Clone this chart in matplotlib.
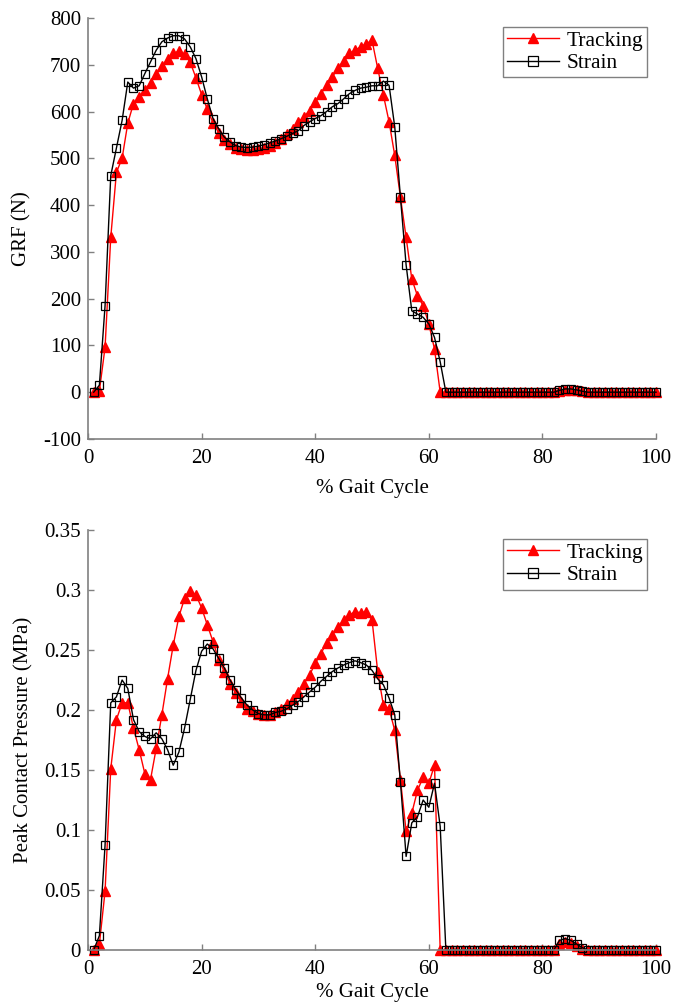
# GRF and peak contact pressure over the gait cycle

import numpy as np
import matplotlib
matplotlib.use('Agg')
import matplotlib.pyplot as plt
from matplotlib.ticker import FuncFormatter

plt.rcParams['font.family'] = ['Liberation Serif', 'DejaVu Serif']
plt.rcParams['font.size'] = 15

# Data
gait = np.arange(1, 101)

grf_tracking = [0, 3, 96, 331, 470, 500, 575, 617, 630, 645,
                662, 680, 697, 712, 724, 729, 722, 705, 672, 636,
                605, 576, 555, 540, 530, 523, 519, 517, 518, 520,
                523, 527, 533, 541, 551, 563, 577, 589, 602, 620,
                638, 656, 674, 692, 709, 724, 731, 738, 745, 752,
                692, 635, 578, 506, 417, 331, 242, 206, 185, 146,
                92, 0, 0, 0, 0, 0, 0, 0, 0, 0,
                0, 0, 0, 0, 0, 0, 0, 0, 0, 0,
                0, 0, 3, 5, 5, 4, 2, 0, 0, 0,
                0, 0, 0, 0, 0, 0, 0, 0, 0, 0]

grf_strain = [0, 15, 185, 463, 522, 581, 663, 650, 655, 681,
              706, 731, 749, 757, 762, 762, 755, 738, 713, 674,
              627, 585, 563, 545, 535, 527, 524, 523, 524, 526,
              529, 533, 537, 542, 547, 553, 559, 570, 578, 585,
              591, 600, 610, 617, 627, 638, 645, 650, 652, 655,
              655, 665, 656, 567, 417, 272, 174, 167, 160, 146,
              117, 65, 0, 0, 0, 0, 0, 0, 0, 0,
              0, 0, 0, 0, 0, 0, 0, 0, 0, 0,
              0, 0, 4, 7, 7, 5, 2, 0, 0, 0,
              0, 0, 0, 0, 0, 0, 0, 0, 0, 0]

pcp_tracking = [0, 0.005, 0.049, 0.151, 0.192, 0.206, 0.206, 0.185, 0.167, 0.147,
                0.142, 0.168, 0.196, 0.226, 0.254, 0.278, 0.293, 0.299, 0.296, 0.285,
                0.271, 0.257, 0.242, 0.232, 0.222, 0.214, 0.207, 0.201, 0.199, 0.197,
                0.196, 0.196, 0.198, 0.201, 0.205, 0.209, 0.215, 0.222, 0.229, 0.239,
                0.247, 0.256, 0.2625, 0.269, 0.275, 0.279, 0.282, 0.281, 0.282, 0.275,
                0.232, 0.204, 0.201, 0.183, 0.142, 0.099, 0.114, 0.133, 0.144, 0.139,
                0.154, 0, 0, 0, 0, 0, 0, 0, 0, 0,
                0, 0, 0, 0, 0, 0, 0, 0, 0, 0,
                0, 0, 0.005, 0.007, 0.006, 0.003, 0.001, 0, 0, 0,
                0, 0, 0, 0, 0, 0, 0, 0, 0, 0]

pcp_strain = [0, 0.012, 0.0875, 0.206, 0.211, 0.225, 0.218, 0.192, 0.182, 0.178,
              0.176, 0.181, 0.176, 0.167, 0.154, 0.165, 0.185, 0.209, 0.233, 0.249,
              0.255, 0.251, 0.243, 0.235, 0.225, 0.217, 0.21, 0.204, 0.2, 0.197,
              0.196, 0.196, 0.198, 0.199, 0.201, 0.204, 0.207, 0.211, 0.215, 0.219,
              0.224, 0.228, 0.232, 0.235, 0.2375, 0.2395, 0.241, 0.2395, 0.2375, 0.233,
              0.226, 0.221, 0.21, 0.196, 0.14, 0.078, 0.106, 0.111, 0.125, 0.119,
              0.139, 0.103, 0, 0, 0, 0, 0, 0, 0, 0,
              0, 0, 0, 0, 0, 0, 0, 0, 0, 0,
              0, 0, 0.008, 0.0095, 0.008, 0.005, 0.002, 0, 0, 0,
              0, 0, 0, 0, 0, 0, 0, 0, 0, 0]

fig = plt.figure(figsize=(6.73, 10.08), dpi=100)
ax1 = fig.add_axes([0.1308, 0.5645, 0.844, 0.4177])
ax2 = fig.add_axes([0.1308, 0.0575, 0.844, 0.4167])


def style(ax, xpad):
    for s in ['top', 'right']:
        ax.spines[s].set_visible(False)
    for s in ['left', 'bottom']:
        ax.spines[s].set_color('#808080')
        ax.spines[s].set_linewidth(1.2)
    ax.tick_params(direction='in', color='#808080', length=4, width=1, labelsize=15)
    ax.tick_params(axis='x', pad=7)
    ax.tick_params(axis='y', pad=5)
    ax.set_xlim(0, 100)
    ax.set_xticks(np.arange(0, 101, 20))
    ax.set_xlabel('% Gait Cycle', fontsize=15, labelpad=xpad)
    ax.yaxis.set_major_formatter(FuncFormatter(lambda v, p: '%g' % round(v, 4)))
    leg = ax.legend(loc='upper right', fancybox=False, numpoints=1,
                    edgecolor='#808080', framealpha=1, fontsize=15.5,
                    handlelength=2.4, handletextpad=0.35, borderpad=0.2,
                    labelspacing=0.1, borderaxespad=0.4, markerscale=1.2)
    leg.get_frame().set_linewidth(1.0)


ax1.plot(gait, grf_tracking, color='red', marker='^', markersize=6.5,
         markerfacecolor='red', markeredgecolor='red', linewidth=1, label='Tracking')
ax1.plot(gait, grf_strain, color='black', marker='s', markersize=5.5,
         markerfacecolor='none', markeredgecolor='black', markeredgewidth=0.9,
         linewidth=1, label='Strain')
ax1.set_ylim(-100, 800)
ax1.set_yticks(np.arange(-100, 801, 100))
ax1.set_ylabel('GRF (N)', fontsize=15, labelpad=8)
style(ax1, 8)

ax2.plot(gait, pcp_tracking, color='red', marker='^', markersize=6.5,
         markerfacecolor='red', markeredgecolor='red', linewidth=1, label='Tracking')
ax2.plot(gait, pcp_strain, color='black', marker='s', markersize=5.5,
         markerfacecolor='none', markeredgecolor='black', markeredgewidth=0.9,
         linewidth=1, label='Strain')
ax2.set_ylim(0, 0.35)
ax2.set_yticks(np.arange(0, 0.351, 0.05))
ax2.set_ylabel('Peak Contact Pressure (MPa)', fontsize=15, labelpad=8)
style(ax2, 3)

for ax in (ax1, ax2):
    for line in ax.lines:
        line.set_clip_on(False)

fig.savefig('out.png', dpi=100)
